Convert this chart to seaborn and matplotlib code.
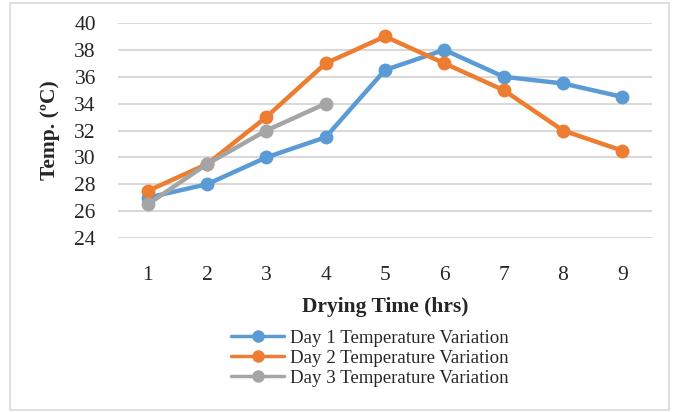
import matplotlib
matplotlib.use("Agg")
import matplotlib.pyplot as plt
import seaborn as sns
import pandas as pd
from matplotlib.patches import Rectangle

hours = [1, 2, 3, 4, 5, 6, 7, 8, 9]
day1 = [27, 28, 30, 31.5, 36.5, 38, 36, 35.5, 34.5]
day2 = [27.5, 29.5, 33, 37, 39, 37, 35, 32, 30.5]
day3 = [26.5, 29.5, 32, 34]
series_names = ["Day 1 Temperature Variation", "Day 2 Temperature Variation", "Day 3 Temperature Variation"]
colors = ["#5B9BD5", "#ED7D31", "#A5A5A5"]
y_ticks = [24, 26, 28, 30, 32, 34, 36, 38, 40]

sns.set_style("white")
plt.rcParams['font.family'] = ['Liberation Serif', 'DejaVu Serif']

rows = []
for name, vals in zip(series_names, [day1, day2, day3]):
    for h, v in zip(hours, vals):
        rows.append({"hour": h, "temp": v, "series": name})
df = pd.DataFrame(rows)

fig = plt.figure(figsize=(6.73, 4.12), dpi=100)
ax = fig.add_axes([118/673, 1-238/412, (652-118)/673, (238-23)/412])

sns.lineplot(data=df, x="hour", y="temp", hue="series", palette=colors,
             marker="o", markersize=10, markeredgewidth=0, linewidth=3.2,
             ax=ax, legend=True, sort=False)

ax.set_xlim(0.5, 9.5)
ax.set_ylim(24, 40)
ax.set_yticks(y_ticks)
ax.set_xticks(hours)
ax.set_xticklabels([str(h) for h in hours])
ax.grid(axis="y", color="#D9D9D9", linewidth=1.5)
ax.set_axisbelow(True)
for s in ax.spines.values():
    s.set_visible(False)
ax.tick_params(axis="y", length=0, pad=16, labelsize=15.5)
ax.tick_params(axis="x", length=0, pad=20, labelsize=15.5)
ax.set_xlabel("Drying Time (hrs)", fontsize=15.5, fontweight="bold", labelpad=9)
ax.set_ylabel("Temp. (ºC)", fontsize=15.5, fontweight="bold", labelpad=10)

handles, labels = ax.get_legend_handles_labels()
ax.get_legend().remove()
for h in handles:
    h.set_linewidth(2.5)
    h.set_markersize(9)
fig.legend(handles, labels, loc="upper center", bbox_to_anchor=(370/673, 1-320/412),
           frameon=False, fontsize=13.6, handlelength=2.8, handletextpad=0.3,
           labelspacing=0.15, borderpad=0)

fig.patches.append(Rectangle((10/673, 2/412), 659/673, 407/412, transform=fig.transFigure,
                             fill=False, edgecolor="#D9D9D9", linewidth=1.2))

fig.savefig("out.png", dpi=100)
